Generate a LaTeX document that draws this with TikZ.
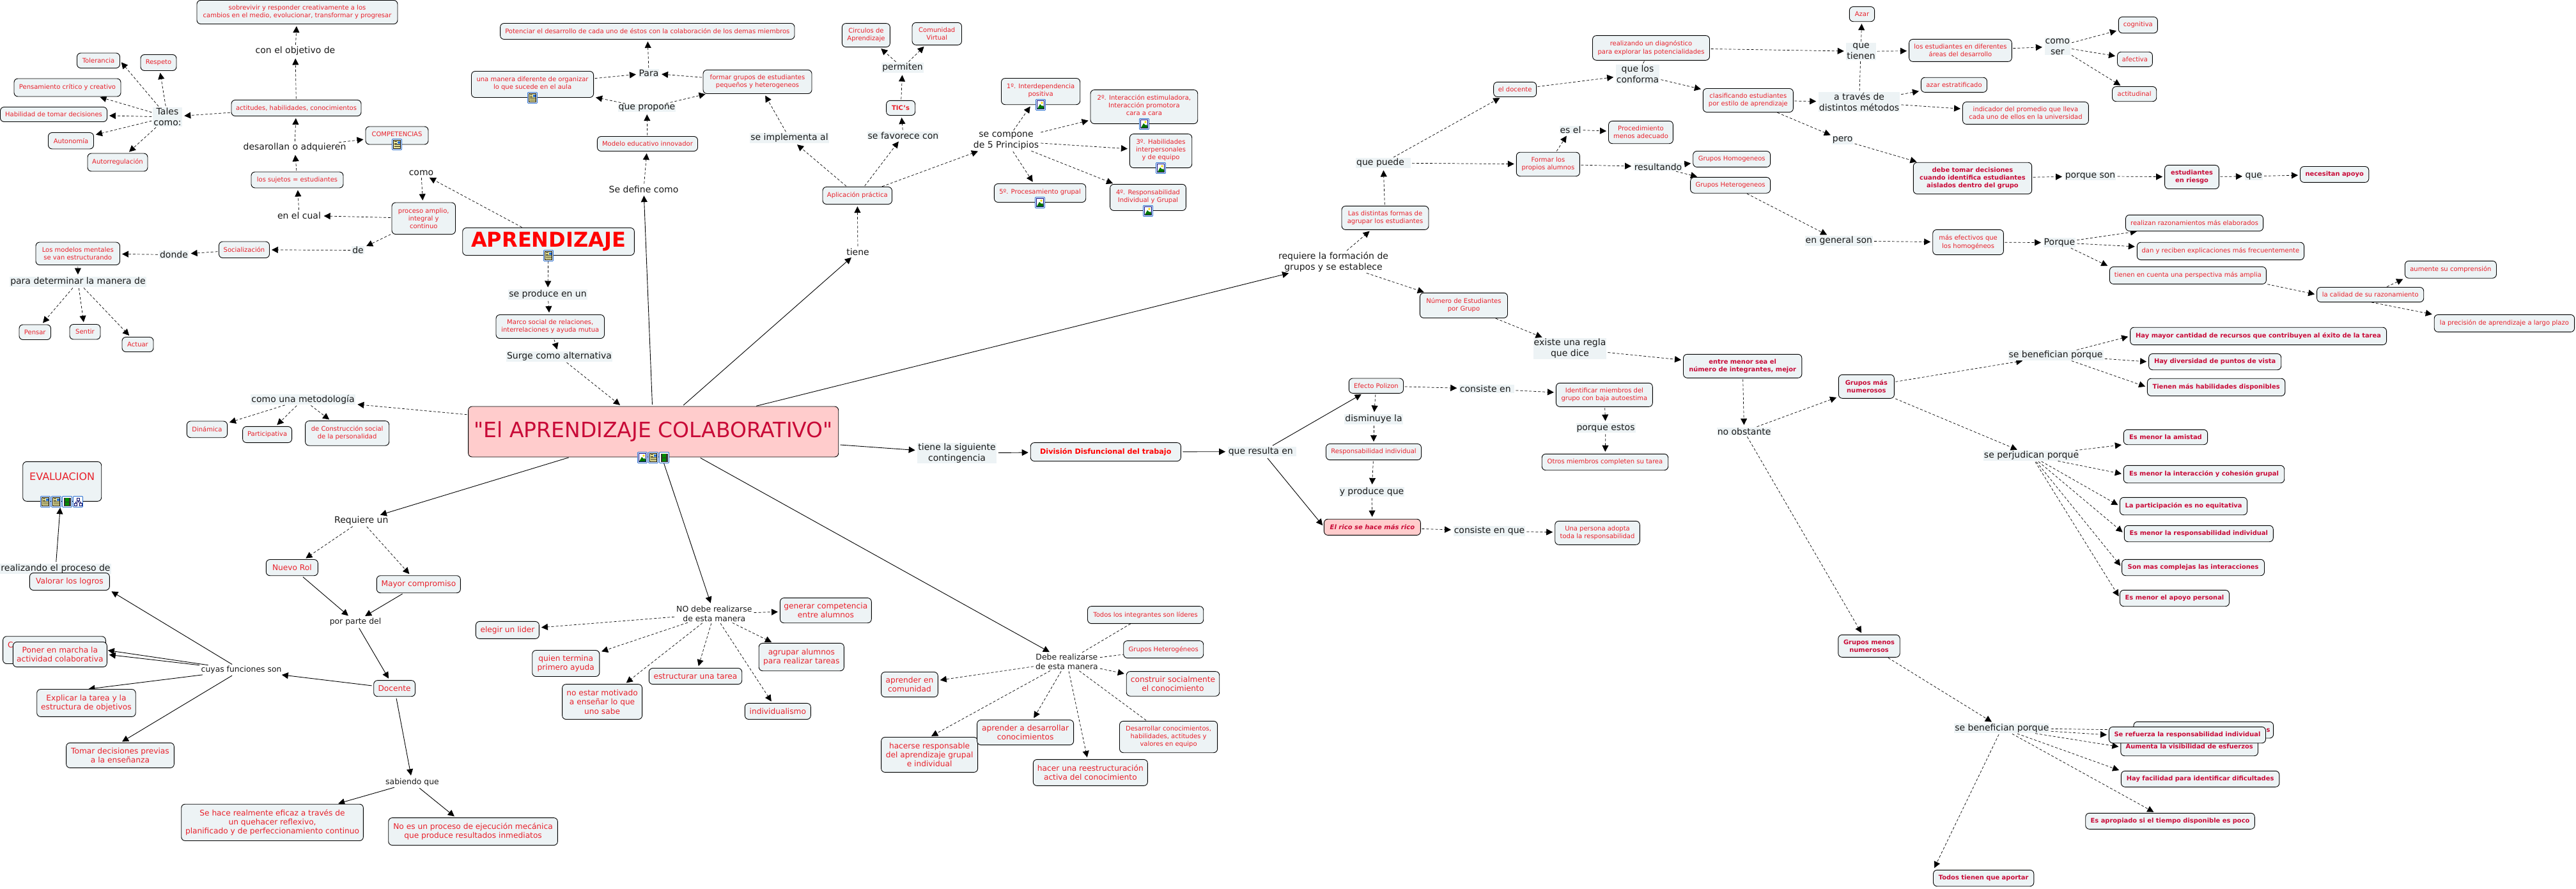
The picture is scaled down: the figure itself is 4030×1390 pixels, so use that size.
\documentclass[tikz,border=0pt]{standalone}
\usepackage{fontspec}
\setmainfont{DejaVu Sans}
\newfontfamily\plainfont{DejaVu Sans}
\usetikzlibrary{arrows.meta}
\pgfdeclarelayer{edges}
\pgfsetlayers{edges,main}
\definecolor{boxfill}{HTML}{EDF3F5}
\definecolor{cred}{HTML}{E8202A}
\definecolor{crim}{HTML}{C80A37}
\definecolor{pinkf}{HTML}{FFCCCC}
\definecolor{icblue}{HTML}{2A6FD0}
\tikzset{
 x=1pt,y=-1pt,
 bb/.style={draw=black,line width=0.9pt,fill=boxfill,rounded corners=6pt,inner sep=0pt,outer sep=0pt,align=center,text=cred},
 c9/.style={bb,font=\fontsize{10}{12.2}\selectfont},
 c11/.style={bb,font=\fontsize{12.2}{14.4}\selectfont},
 cb/.style={bb,text=crim,font=\fontsize{9.9}{12.2}\selectfont\bfseries},
 lk/.style={inner sep=1pt,align=center,text=black!90,font=\fontsize{14}{16.8}\selectfont},
 lkb/.style={lk,fill=boxfill},
 lks/.style={lk,font=\fontsize{12.4}{14.6}\selectfont},
 da/.style={line width=0.7pt,dash pattern=on 4pt off 3pt,-{Triangle[length=10pt,width=10pt]},shorten >=3.5pt,shorten <=2pt},
 dn/.style={line width=0.7pt,dash pattern=on 4pt off 3pt,shorten <=2pt},
 so/.style={line width=0.9pt,-{Triangle[length=10pt,width=10pt]},shorten >=3.5pt,shorten <=3pt},
}
\newcommand{\bxx}[7]{\node[#2,minimum width={#5-#3},minimum height={#6-#4}] (#1) at ({(#3+#5)/2},{(#4+#6)/2}) {#7};}
\newcommand{\lnk}[5]{\node[#2] (#1) at (#3,#4) {#5};}
\newcommand{\icsp}{\\[-7pt]{}}
\newcommand{\icbase}[2]{\fill[white,draw=icblue,line width=0.8pt,rounded corners=1pt] (#1-7.5,#2-8.5) rectangle (#1+7.5,#2+8.5);}
\newcommand{\icdoc}[2]{\icbase{#1}{#2}
 \fill[yellow!35,draw=black,line width=0.5pt] (#1-5.5,#2-6.5) rectangle (#1+5.5,#2+6.5);
 \fill[icblue] (#1+0.5,#2-5.5) rectangle (#1+4.5,#2-1);
 \draw[line width=0.6pt] (#1-4.5,#2-4.5)--(#1-0.5,#2-4.5) (#1-4.5,#2-2)--(#1-0.5,#2-2) (#1-4.5,#2+0.5)--(#1+4.5,#2+0.5) (#1-4.5,#2+3)--(#1+4.5,#2+3);}
\newcommand{\icimg}[2]{\icbase{#1}{#2}
 \fill[white,draw=blue!50!black,line width=1pt] (#1-5.5,#2-6.5) rectangle (#1+5.5,#2+6.5);
 \fill[yellow!80!orange] (#1+2,#2-3) circle (1.8);
 \fill[green!45!black] (#1-5,#2+6) -- (#1-1,#2-1) -- (#1+2,#2+2) -- (#1+3.5,#2+1) -- (#1+5,#2+3) -- (#1+5,#2+6) -- cycle;}
\newcommand{\icfilm}[2]{\icbase{#1}{#2}
 \fill[black!80] (#1-5.5,#2-6.5) rectangle (#1+5.5,#2+6.5);
 \fill[green!55!black] (#1-3,#2-6) rectangle (#1+3,#2-0.5);
 \fill[green!55!black] (#1-3,#2+0.5) rectangle (#1+3,#2+6);}
\newcommand{\icmap}[2]{\icbase{#1}{#2}
 \draw[blue!40!black,line width=0.7pt] (#1-2,#2-6) rectangle (#1+2,#2-2) (#1,#2-2)--(#1,#2) (#1-4,#2)--(#1+4,#2) (#1-4,#2)--(#1-4,#2+2) (#1+4,#2)--(#1+4,#2+2) (#1-6,#2+2) rectangle (#1-2,#2+6) (#1+2,#2+2) rectangle (#1+6,#2+6);}
\begin{document}
\begin{tikzpicture}
\useasboundingbox (0,0) rectangle (4030,1390);
\begin{pgfonlayer}{edges}\fill[white] (0,0) rectangle (4030,1390);\end{pgfonlayer}
% --- concepts, upper left
\bxx{sobre}{c9}{308}{0.5}{622}{37.5}{sobrevivir y responder creativamente a los\\cambios en el medio, evolucionar,  transformar y progresar}
\bxx{tol}{c9}{120.5}{83}{187.5}{106.5}{Tolerancia}
\bxx{resp}{c9}{220}{85.5}{276}{110.5}{Respeto}
\bxx{pens}{c9}{22}{123}{189}{151}{Pensamiento crítico y creativo}
\bxx{habi}{c9}{0.5}{167.5}{167.5}{190.5}{Habilidad de tomar decisiones}
\bxx{auton}{c9}{75.5}{207.5}{146.5}{233}{Autonomía}
\bxx{autor}{c9}{137}{240}{231}{268}{Autorregulación}
\bxx{acti}{c9}{362}{156.5}{565}{181.5}{actitudes, habilidades, conocimientos}
\bxx{comp}{c9}{572}{198}{670}{226}{COMPETENCIAS\icsp}
\bxx{suje}{c9}{393}{269}{537}{294}{los sujetos = estudiantes}
\bxx{proc}{c9}{613}{317}{712.5}{366.5}{proceso amplio,\\integral y\\continuo}
\bxx{soci}{c9}{342.5}{378}{421.5}{403.5}{Socialización}
\bxx{mode}{c9}{56}{379}{187.5}{414.5}{Los modelos mentales\\se van estructurando}
\bxx{pensar}{c9}{30}{508}{79.5}{531.5}{Pensar}
\bxx{sentir}{c9}{109}{507.5}{157}{531}{Sentir}
\bxx{actuar}{c9}{191}{527.5}{240}{550.5}{Actuar}
\bxx{dina}{c9}{292.3}{659}{355.6}{684.7}{Dinámica}
\bxx{part}{c9}{379.6}{667.4}{456.6}{692.6}{Participativa}
\bxx{cons}{c9}{477.6}{658.6}{608.7}{697.2}{de Construcción social\\de la personalidad}
\lnk{lobj}{lk}{462}{80}{con el objetivo de}
\lnk{ltal}{lkb}{262}{183}{Tales\\como:}
\lnk{ldes}{lk}{461}{231}{desarollan o adquieren}
\lnk{lcual}{lk}{468}{337}{en el cual}
\lnk{lcomo}{lk}{659}{271}{como}
\lnk{lde}{lkb}{560}{391.5}{de}
\lnk{ldon}{lkb}{272}{398.5}{donde}
\lnk{lpara}{lkb}{122}{441}{para determinar la manera de}
\lnk{lmet}{lkb}{474}{625}{como una metodología}
% --- upper centre
\bxx{pot}{c9}{782.6}{36.5}{1243}{61.5}{Potenciar el desarrollo de cada uno de éstos con la colaboración de los demas miembros}
\bxx{una}{c9}{737.5}{111.5}{928.6}{152.5}{una manera diferente de organizar\\lo que sucede en el aula\icsp}
\bxx{fgr}{c9}{1100}{109.5}{1270}{146.5}{formar grupos de estudiantes\\pequeños y heterogeneos}
\bxx{mod}{c9}{934.4}{213.5}{1091.5}{236.5}{Modelo educativo innovador}
\bxx{apl}{c9}{1287}{292.5}{1395.5}{319.5}{Aplicación práctica}
\bxx{apr}{bb,text=red,font=\fontsize{32}{34}\selectfont\bfseries}{723.7}{356.5}{992.4}{399.5}{APRENDIZAJE}
\bxx{marco}{c9}{776}{492.5}{945.5}{529.5}{Marco social de relaciones,\\interrelaciones y ayuda mutua}
\bxx{main}{bb,fill=pinkf,text=crim,font=\plainfont\fontsize{33}{36}\selectfont}{732.6}{636}{1311.7}{715}{"El APRENDIZAJE COLABORATIVO"}
\bxx{circ}{c9}{1317.4}{36.6}{1392.4}{73.6}{Circulos de\\Aprendizaje}
\bxx{tic}{bb,font=\fontsize{10}{12}\selectfont\bfseries}{1386.6}{157.4}{1431.7}{180.5}{TIC's}
\bxx{comu}{c9}{1427}{35.4}{1504.5}{70.3}{Comunidad\\Virtual}
\bxx{pa}{c9}{1566.5}{122.5}{1689.7}{163.7}{1º. Interdependencia\\positiva\icsp}
\bxx{pb}{c9}{1706}{140.6}{1873.7}{193.6}{2º. Interacción estimuladora,\\Interacción promotora\\cara a cara\icsp}
\bxx{pc}{c9}{1767.4}{209.6}{1864.7}{262.6}{3º. Habilidades\\interpersonales\\y de equipo\icsp}
\bxx{pd}{c9}{1736.6}{288.3}{1855.4}{329.5}{4º. Responsabilidad\\Individual y Grupal\icsp}
\bxx{pe}{c9}{1555.4}{287.5}{1698.7}{316.5}{5º. Procesamiento grupal\icsp}
\lnk{lpa2}{lkb}{1015}{114.5}{Para}
\lnk{lprop}{lkb}{1012}{169}{que propone}
\lnk{ldef}{lk}{1007}{296}{Se define como}
\lnk{limp}{lkb}{1235}{216}{se implementa al}
\lnk{ltie}{lk}{1342}{394}{tiene}
\lnk{lprod}{lkb}{857}{461}{se produce en un}
\lnk{lsur}{lkb}{875}{558}{Surge como alternativa}
\lnk{lfav}{lkb}{1413}{212}{se favorece con}
\lnk{lper}{lkb}{1412}{106}{permiten}
\lnk{lcom}{lk}{1574}{220.5}{se compone\\de 5 Principios}
\lnk{lreq}{lk}{2086}{410}{requiere la formación de\\grupos y se establece}
% --- upper right
\bxx{dist}{c9}{2099}{322.4}{2235}{359.4}{Las distintas formas de\\agrupar los estudiantes}
\bxx{doce}{c9}{2336.6}{128.4}{2403.6}{151.5}{el docente}
\bxx{fpro}{c9}{2372.3}{238.2}{2471.4}{275.7}{Formar los\\propios alumnos}
\bxx{proce}{c9}{2516.5}{189.4}{2617.4}{224.7}{Procedimiento\\menos adecuado}
\bxx{real}{c9}{2491.5}{55.6}{2674.5}{94.3}{realizando un diagnóstico\\para explorar las potencialidades}
\bxx{clas}{c9}{2664.3}{138.5}{2805.4}{175.5}{clasificando estudiantes\\por estilo de aprendizaje}
\bxx{homo}{c9}{2648.7}{236.5}{2769.6}{261.4}{Grupos Homogeneos}
\bxx{hete}{c9}{2644.6}{277.4}{2769.6}{302.2}{Grupos Heterogeneos}
\bxx{nume}{c9}{2221.4}{458.3}{2358.5}{497.5}{Número de Estudiantes\\por Grupo}
\bxx{entre}{cb}{2633.5}{554.3}{2818.8}{591.3}{entre menor sea el\\número de integrantes, mejor}
\bxx{efec}{c9}{2110.3}{592}{2195.5}{615.3}{Efecto Polizon}
\bxx{iden}{c9}{2434.4}{599.3}{2585.3}{636.4}{Identificar miembros del\\grupo con baja autoestima}
\bxx{azar}{c9}{2893.3}{10.5}{2932.6}{33.7}{Azar}
\bxx{lest}{c9}{2986.6}{61.4}{3147.3}{96.4}{los estudiantes en diferentes\\áreas del desarrollo}
\bxx{cogn}{c9}{3314.3}{26.5}{3375.4}{51.8}{cognitiva}
\bxx{afec}{c9}{3312.5}{81.2}{3367.4}{104.4}{afectiva}
\bxx{acdi}{c9}{3304.5}{135.5}{3373.7}{158.7}{actitudinal}
\bxx{azes}{c9}{3005.4}{121.2}{3108.5}{144.4}{azar estratificado}
\bxx{indi}{c9}{3070.5}{159.5}{3267.4}{194.4}{indicador del promedio que lleva\\cada uno de ellos en la universidad}
\bxx{debe}{cb}{2993.3}{254.2}{3178.6}{303.5}{debe tomar decisiones\\cuando identifica estudiantes\\aislados dentro del grupo}
\bxx{eris}{cb}{3386.6}{258.4}{3471.4}{295.5}{estudiantes\\en riesgo}
\bxx{nece}{cb}{3598.5}{260.5}{3705.8}{285.4}{necesitan apoyo}
\bxx{mefe}{c9}{3023.7}{359.4}{3134.4}{398.6}{más efectivos que\\los homogéneos}
\bxx{rrea}{c9}{3325.4}{336.3}{3540.6}{361.5}{realizan razonamientos más elaborados}
\bxx{rdan}{c9}{3343.3}{379.2}{3604.5}{406.6}{dan y reciben explicaciones más frecuentemente}
\bxx{rtie}{c9}{3300.4}{417.5}{3545.4}{444.4}{tienen en cuenta una perspectiva más amplia}
\bxx{aume}{c9}{3762.4}{408.3}{3905.4}{435.2}{aumente su comprensión}
\bxx{cali}{c9}{3624.6}{449.5}{3791.7}{472.6}{la calidad de su razonamiento}
\bxx{prec}{c9}{3808.2}{492.4}{4027.6}{519.4}{la precisión de aprendizaje a largo plazo}
\bxx{hay1}{cb}{3332.6}{512.2}{3733.5}{539.6}{Hay mayor cantidad de recursos que contribuyen al éxito de la tarea}
\bxx{hay2}{cb}{3361.6}{553.5}{3568.7}{578.7}{Hay diversidad de puntos de vista}
\bxx{hay3}{cb}{3359.4}{592.2}{3574.8}{619.5}{Tienen más habilidades disponibles}
\bxx{gmas}{cb}{2876.3}{586.3}{2963.4}{623.3}{Grupos más\\numerosos}
\lnk{lpue}{lkb}{2164}{255}{que puede\ \ }
\lnk{lesel}{lkb}{2457}{203}{es el}
\lnk{lcon}{lkb}{2562}{116}{que los\\conforma}
\lnk{lres}{lkb}{2594}{261}{resultando}
\lnk{lexi}{lkb}{2456}{545.5}{existe una regla\\que dice}
\lnk{lcne}{lkb}{2326}{608.6}{consiste en\ }
\lnk{ldis}{lkb}{2149}{656}{disminuye la}
\lnk{lqti}{lkb}{2911.6}{80.4}{que\\tienen}
\lnk{lcse}{lkb}{3218.8}{72.8}{como\\ser}
\lnk{latr}{lkb}{2908.5}{159.5}{a través de\\distintos métodos}
\lnk{lpero}{lkb}{2882.6}{219.3}{pero}
\lnk{lpso}{lkb}{3270}{275.7}{porque son}
\lnk{lgen}{lkb}{2876.8}{377}{en general son}
\lnk{lpoq}{lkb}{3221.9}{379.6}{Porque}
\lnk{lque}{lkb}{3525.8}{275.7}{que}
\lnk{lbe1}{lkb}{3216}{556}{se benefician porque}
% --- lower left
\bxx{eval}{bb,font=\fontsize{16}{18}\selectfont}{35.7}{722.4}{158.7}{784.3}{EVALUACION\\[-2pt]{}}
\lnk{lrea}{lkb}{87}{890}{realizando el proceso de}
\bxx{valo}{c11}{46.4}{896.5}{171.4}{923.5}{Valorar los logros}
\bxx{nrol}{c11}{416.3}{875.5}{497.4}{900.7}{Nuevo Rol}
\bxx{mayo}{c11}{589.3}{900.7}{720.4}{927.7}{Mayor compromiso}
\bxx{doct}{c11}{584.7}{1064.6}{649.5}{1089.7}{Docente}
\bxx{hidc}{c11}{4.6}{995.7}{165.3}{1038.5}{}
\node[text=cred,font=\fontsize{12.2}{14}\selectfont,inner sep=0pt] (hidt) at (16.5,1009) {C};
\bxx{pone}{c11}{20.4}{1004.5}{167.3}{1043.6}{Poner en marcha la\\actividad colaborativa}
\bxx{expl}{c11}{57.7}{1078.5}{212.2}{1121.4}{Explicar la tarea y la\\estructura de objetivos}
\bxx{toma}{c11}{103.6}{1162.3}{272.4}{1201.4}{Tomar decisiones previas\\a la enseñanza}
\bxx{seha}{c11}{283.7}{1258.2}{568.4}{1315.5}{Se hace realmente eficaz a través de\\un quehacer reflexivo,\\ planificado y de perfeccionamiento continuo}
\bxx{noes}{c11}{607.7}{1279.6}{872.4}{1322.5}{No es un proceso de ejecución mecánica\\que produce resultados inmediatos}
\lnk{lreu}{lk}{565.3}{814.6}{Requiere un}
\lnk{lpdl}{lks}{556}{972.9}{por parte del}
\lnk{lcuy}{lks}{377.6}{1048.3}{cuyas funciones son}
\lnk{lsab}{lks}{645}{1224}{sabiendo que}
% --- lower centre
\bxx{gene}{c11}{1220.4}{935.6}{1363.3}{974.7}{generar competencia\\entre alumnos}
\bxx{elid}{c11}{744.4}{972.4}{843.4}{999.4}{elegir un lider}
\bxx{quie}{c11}{832.7}{1017.5}{937.8}{1058.5}{quien termina\\primero ayuda}
\bxx{noem}{c11}{879.6}{1070.6}{1004.6}{1125.5}{no estar motivado\\a enseñar lo que\\uno sabe}
\bxx{estr}{c11}{1015.3}{1045.5}{1160.7}{1070.6}{estructurar una tarea}
\bxx{agru}{c11}{1187.2}{1006.4}{1320.4}{1049.7}{agrupar alumnos\\para realizar tareas}
\bxx{indv}{c11}{1165.3}{1100.4}{1268.4}{1125.5}{individualismo}
\bxx{acom}{c11}{1378.6}{1051.5}{1467.3}{1090.6}{aprender en\\comunidad}
\bxx{hace}{c11}{1378.6}{1153.5}{1529.6}{1208.4}{hacerse responsable\\del aprendizaje grupal\\e individual}
\bxx{ades}{c11}{1528.6}{1126.5}{1679.6}{1165.6}{aprender a desarrollar\\conocimientos}
\bxx{todo}{c9}{1701.5}{948.6}{1882.7}{975.6}{Todos los integrantes son líderes}
\bxx{gpos}{c9}{1757.7}{1002.6}{1882.7}{1029.6}{Grupos Heterogéneos}
\bxx{cstr}{c11}{1762.2}{1050.6}{1907.7}{1089.2}{construir socialmente\\el conocimiento}
\bxx{desa}{c9}{1751.5}{1128.3}{1904.6}{1177.7}{Desarrollar conocimientos,\\habilidades, actitudes y\\valores en equipo}
\bxx{hreu}{c11}{1616.3}{1188.4}{1795.4}{1229.4}{hacer una reestructuración\\activa del conocimiento}
\bxx{divi}{bb,text=red,font=\fontsize{11.2}{13}\selectfont\bfseries}{1612.2}{692.6}{1847.4}{721.5}{División Disfuncional del trabajo}
\bxx{rind}{c9}{2074.5}{694.5}{2223.5}{719.6}{Responsabilidad individual}
\bxx{rico}{bb,fill=pinkf,text=crim,font=\fontsize{10}{12}\selectfont\bfseries\itshape}{2071.4}{812.2}{2222.4}{837.4}{El rico se hace más rico}
\bxx{unap}{c9}{2432.7}{815.3}{2565.3}{852.3}{Una persona adopta\\toda la responsabilidad}
\bxx{otro}{c9}{2412.2}{710.3}{2609.7}{735.7}{Otros miembros completen su tarea}
\lnk{lsig}{lkb}{1497}{709}{tiene la siguiente\\contingencia}
\lnk{lnod}{lks}{1117.3}{960.3}{NO debe realizarse\\de esta manera}
\lnk{ldeb}{lks}{1668.9}{1035.2}{Debe realizarse\\de esta manera}
\lnk{lrs}{lkb}{1974.5}{706.6}{que resulta en\ }
\lnk{lypr}{lkb}{2146}{769.4}{y produce que}
\lnk{lcq}{lkb}{2330}{830.9}{consiste en que}
\lnk{lpes}{lkb}{2512}{669.7}{porque estos}
\lnk{lnob}{lkb}{2728.6}{675}{no obstante}
% --- lower right
\lnk{lper2}{lkb}{3178}{713}{se perjudican porque}
\bxx{me1}{cb}{3322.3}{672.3}{3453.6}{695.7}{Es menor la amistad}
\bxx{me2}{cb}{3322.3}{728.3}{3573.7}{755.7}{Es menor la interacción y cohesión grupal}
\bxx{me3}{cb}{3316.5}{778.3}{3515.5}{805.7}{La participación es no equitativa}
\bxx{me4}{cb}{3323.3}{822.3}{3556.3}{847.7}{Es menor la responsabilidad individual}
\bxx{me5}{cb}{3319.6}{875.3}{3542.5}{900.7}{Son mas complejas las interacciones}
\bxx{me6}{cb}{3316.5}{923.3}{3487.5}{948.7}{Es menor el apoyo personal}
\bxx{gmen}{cb}{2875.8}{993.3}{2972.2}{1028.3}{Grupos menos\\numerosos}
\lnk{lbe2}{lkb}{3131.8}{1139.3}{se benefician porque}
\bxx{hidd}{cb}{3337.9}{1129.3}{3556.6}{1155}{}
\node[text=crim,font=\fontsize{9.9}{12}\selectfont\bfseries,inner sep=0pt] (hids) at (3548.5,1142.5) {s};
\bxx{aumv}{cb}{3317.8}{1155}{3532.5}{1182.7}{\\[-6pt]Aumenta la visibilidad de esfuerzos}
\bxx{sere}{cb}{3299.4}{1137.3}{3544.5}{1162.7}{Se refuerza la responsabilidad individual}
\bxx{hfac}{cb}{3318.4}{1206.3}{3565.8}{1231.3}{Hay facilidad para identificar dificultades}
\bxx{esap}{cb}{3262.7}{1272.3}{3527.3}{1297.3}{Es apropiado si el tiempo disponible es poco}
\bxx{ttie}{cb}{3024.5}{1361.3}{3181.8}{1386.7}{Todos tienen que aportar}
% --- icons
\icdoc{621}{226}\icdoc{833}{153}\icdoc{858}{400}
\icimg{1628}{164}\icimg{1790}{194}\icimg{1816}{263}\icimg{1796}{330}\icimg{1627}{317}
\icimg{1005}{716}\icdoc{1022}{716}\icfilm{1039}{716}
\icdoc{71}{785}\icdoc{88}{785}\icfilm{105}{785}\icmap{122}{785}
% --- connectors
\begin{pgfonlayer}{edges}
\foreach \fa/\fb in {
 acti/lobj,lobj/sobre,suje/ldes,ldes/acti,ldes/comp,lcual/suje,proc/lcual,acti/ltal,
 ltal/tol.east,ltal/resp,ltal/pens,ltal/habi,ltal/auton,ltal/autor,
 apr/lcomo,lcomo/proc,proc/lde,lde/soci,soci/ldon,ldon/mode,mode/lpara,lpara/pensar,lpara/sentir,lpara/actuar,
 apr/lprod,lprod/marco,marco/lsur,lsur/main,main/lmet,lmet/dina,lmet/part,lmet/cons,
 ldef/mod,mod/lprop,lprop/una,lprop/fgr,una/lpa2,fgr/lpa2,lpa2/pot,
 ltie/apl,apl/limp,limp/fgr,apl/lfav,lfav/tic,tic/lper,lper/circ,lper/comu,apl/lcom,
 lcom/pa,lcom/pb,lcom/pc,lcom/pd,lcom/pe,
 lreq/dist,lreq/nume,dist/lpue,lpue/doce,lpue/fpro,doce/lcon,lcon/clas,
 fpro/lesel,lesel/proce,fpro/lres,lres/homo,lres/hete,
 real/lqti,lqti/lest,latr/azar,clas/latr,latr/azes,latr/indi,clas/lpero,lpero/debe,
 debe/lpso,lpso/eris,eris/lque,lque/nece,lest/lcse,lcse/cogn,lcse/afec,lcse/acdi,
 hete/lgen,lgen/mefe,mefe/lpoq,lpoq/rrea,lpoq/rdan,lpoq/rtie.north west,
 rtie.south east/cali.west,cali/aume.south west,cali.south/prec.north west,
 nume/lexi,lexi/entre,entre/lnob,lnob/gmas,lnob/gmen,
 gmas/lbe1,lbe1/hay1.west,lbe1/hay2.west,lbe1/hay3.west,gmas/lper2,
 lper2/me1.south west,lper2/me2.west,lper2/me3.west,lper2/me4.west,lper2/me5.west,lper2/me6.west,
 gmen/lbe2,lbe2/hidd.west,lbe2/sere.west,lbe2/aumv.west,lbe2/hfac.north west,lbe2/esap,lbe2/ttie.north west,
 efec/lcne,lcne/iden,iden/lpes,lpes/otro,efec/ldis,ldis/rind,rind/lypr,lypr/rico,rico/lcq,lcq/unap,
 lreu/nrol,lreu/mayo,
 lnod/gene,lnod/elid,lnod/quie,lnod/noem,lnod/estr,lnod/agru,lnod/indv,
 ldeb/acom,ldeb/hace.north,ldeb/ades,ldeb/hreu,ldeb/cstr}
 {\draw[da] (\fa) -- (\fb);}
\foreach \fa/\fb in {ldeb/todo,ldeb/gpos,ldeb/desa,lcon/real}
 {\draw[dn] (\fa) -- (\fb);}
\foreach \fa/\fb in {
 main/ldef,main/ltie,main/lreq,main/lsig,lsig/divi,divi/lrs,lrs/efec,lrs/rico.west,
 main/lreu,main/lnod,main/ldeb,nrol/lpdl,mayo/lpdl,lpdl/doct,doct/lcuy,
 lcuy/valo.south east,lcuy/hidc.east,lcuy/pone.east,lcuy/expl.north,lcuy/toma.north,doct/lsab,lsab/seha,lsab/noes}
 {\draw[so] (\fa) -- (\fb);}
\draw[so,shorten >=10pt] (lrea) -- (eval);
\end{pgfonlayer}
\end{tikzpicture}
\end{document}
